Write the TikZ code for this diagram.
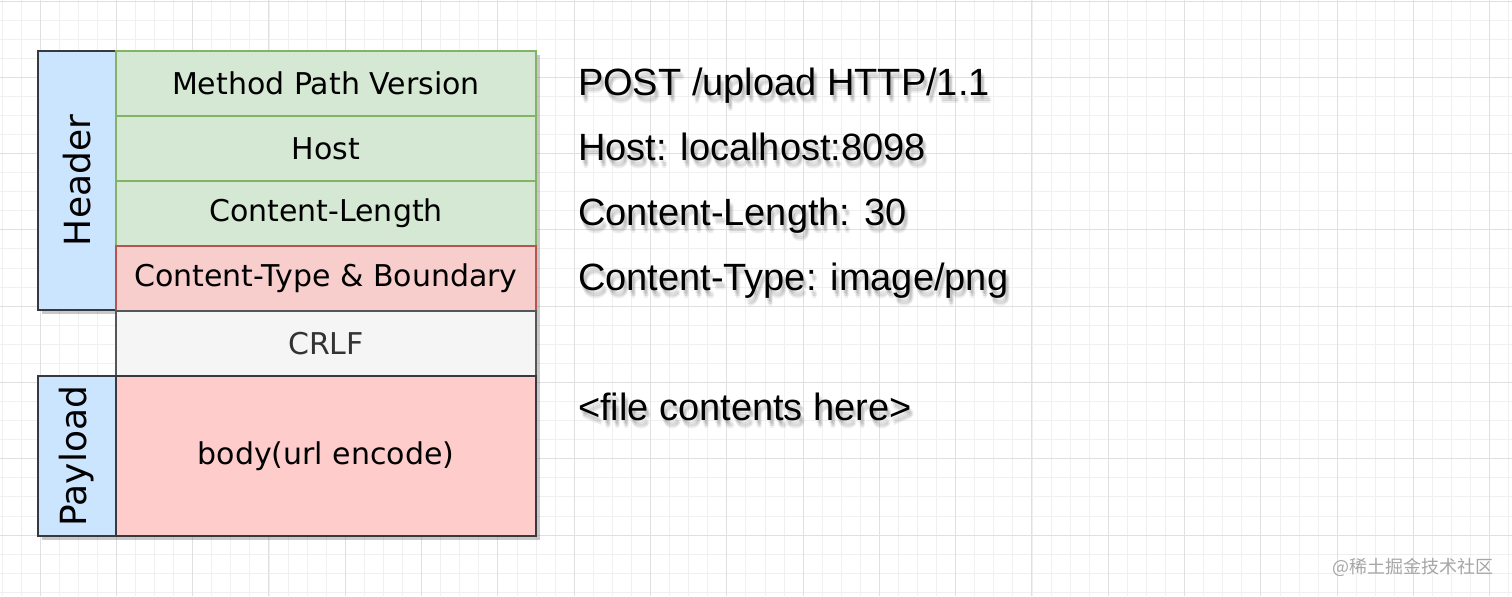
\documentclass[tikz,border=0pt]{standalone}
\usepackage{fontspec}
\setmainfont{DejaVu Sans}
\newfontfamily\reqfont{Liberation Sans}
\newfontfamily\cjkfont{Noto Sans CJK SC}
\usetikzlibrary{positioning,shadows}

\definecolor{hdrGreen}{HTML}{D5E8D4}
\definecolor{hdrGreenLine}{HTML}{82B366}
\definecolor{ctRed}{HTML}{F8CECC}
\definecolor{ctRedLine}{HTML}{B85450}
\definecolor{sideBlue}{HTML}{CCE5FF}
\definecolor{darkLine}{HTML}{36393D}
\definecolor{crlfGray}{HTML}{F5F5F5}
\definecolor{bodyRed}{HTML}{FFCCCC}

\begin{document}
\begin{tikzpicture}[
    x=0.5pt, y=-0.5pt, every node/.style={inner sep=0pt, outer sep=0pt},
    boxShadow/.style={drop shadow={opacity=0.3, fill=black!70, shadow xshift=1.8pt, shadow yshift=-2pt}},
    rowBase/.style={rectangle, draw, line width=0.75pt, minimum width=210pt, minimum height=32.5pt, boxShadow, font=\fontsize{15}{18}\selectfont},
    hdrRow/.style={rowBase, fill=hdrGreen, draw=hdrGreenLine},
    ctRow/.style={rowBase, fill=ctRed, draw=ctRedLine},
    crlfRow/.style={rowBase, fill=crlfGray, draw=darkLine!85, text=black!80},
    bodyRow/.style={rowBase, fill=bodyRed, draw=darkLine, minimum height=80pt},
    sideBox/.style={rectangle, draw=darkLine, fill=sideBlue, line width=0.75pt, minimum width=39pt, boxShadow},
    sideLbl/.style={rotate=90, font=\fontsize{18}{22}\selectfont},
    reqLine/.style={anchor=base west, font=\reqfont\fontsize{19}{23}\selectfont},
    reqShadow/.style={reqLine, text=black!70, opacity=0.09},
    gridMinor/.style={draw=black!6, line width=0.5pt},
    gridMajor/.style={draw=black!12, line width=0.5pt}
]
    \useasboundingbox[fill=white] (0,0) rectangle (1512,596);

    % grid
    \foreach \k in {0,...,79} \draw[gridMinor] ({2+19.075*\k},0) -- ({2+19.075*\k},596);
    \foreach \k in {0,...,31} \draw[gridMinor] (0,{1+19.075*\k}) -- (1512,{1+19.075*\k});
    \foreach \k in {0,...,19} \draw[gridMajor] ({40+76.3*\k},0) -- ({40+76.3*\k},596);
    \foreach \k in {0,...,7} \draw[gridMajor] (0,{1+76.3*\k}) -- (1512,{1+76.3*\k});

    % header part
    \node[sideBox, minimum height=129.5pt, anchor=north west] (hdr) at (38,51) {};
    \node[hdrRow, anchor=north west] (mpv) at (116,51) {\raisebox{-1pt}{Method Path Version}};
    \node[hdrRow, below=0pt of mpv] (host) {\raisebox{-1pt}{Host}};
    \node[hdrRow, below=0pt of host] (clen) {\raisebox{-1pt}{Content-Length}};
    \node[ctRow, below=0pt of clen] (ctype) {\raisebox{-1pt}{Content-Type \& Boundary}};
    \node[sideLbl] (hdrLbl) at (hdr.center) {Header};

    % blank line
    \node[crlfRow, below=0pt of ctype] (crlf) {\raisebox{-1pt}{CRLF}};

    % payload part
    \node[sideBox, minimum height=80pt, anchor=north east] (pay) at (crlf.south west) {};
    \node[bodyRow, below=0pt of crlf] (body) {\raisebox{-1.5pt}{body(url encode)}};
    \node[sideLbl] (payLbl) at (pay.center) {Payload};

    % raw request, soft shadow first
    \foreach \yb/\txt [count=\n] in {95/{POST /upload HTTP/1.1}, 160/{Host: localhost:8098},
        225/{Content-Length: 30}, 290/{Content-Type: image/png}, 420/{<file contents here>}} {
        \foreach \dx/\dy in {1/3, 3/4, 2/6, 4/6, 3/8}
            \node[reqShadow] at ({578+\dx},{\yb+\dy}) {\txt};
        \node[reqLine] (req\n) at (578,\yb) {\txt};
    }

    \node[font=\cjkfont\fontsize{9}{11}\selectfont, text=black!35] (mark) at (1413,567) {@稀土掘金技术社区};
\end{tikzpicture}
\end{document}
